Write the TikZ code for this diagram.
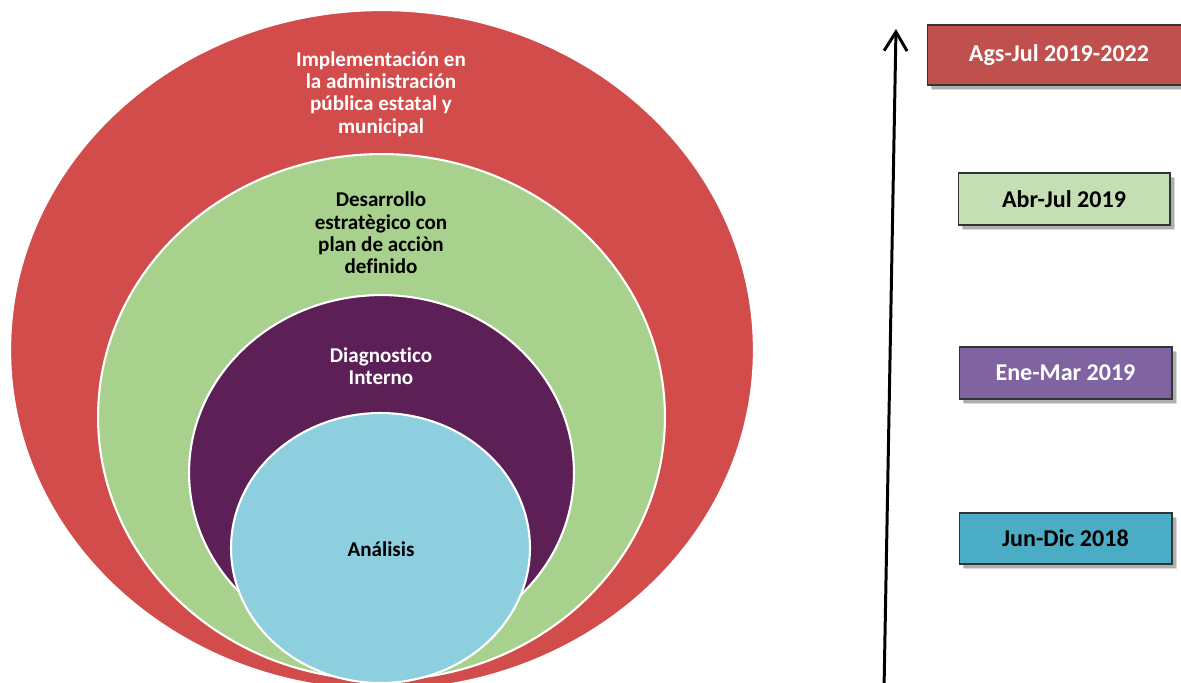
\documentclass[tikz,border=0pt]{standalone}
\usepackage{fontspec}
\setmainfont{Carlito}[Ligatures=CommonOff]
\usetikzlibrary{shapes.geometric,shadows,arrows.meta}
\definecolor{cred}{RGB}{211,76,76}
\definecolor{cgreen}{RGB}{169,209,142}
\definecolor{cpurple}{RGB}{92,32,87}
\definecolor{cblue}{RGB}{142,207,223}
\definecolor{bred}{RGB}{192,80,77}
\definecolor{bgreen}{RGB}{196,223,180}
\definecolor{bpurple}{RGB}{128,100,162}
\definecolor{bblue}{RGB}{75,172,198}
\tikzset{
  ring/.style={ellipse, draw=white, line width=1.2pt, inner sep=0pt, outer sep=0pt},
  ringtext/.style={align=center, font=\bfseries\fontsize{12}{12.7}\selectfont, inner sep=0pt},
  datebox/.style={rectangle, draw=black!80, line width=0.6pt, inner sep=0pt,
    font=\bfseries\fontsize{13.7}{15}\selectfont,
    drop shadow={shadow xshift=3pt, shadow yshift=-3pt, opacity=0.15, fill=black},
    drop shadow={shadow xshift=2pt, shadow yshift=-2pt, opacity=0.2, fill=black}},
}
\begin{document}
\begin{tikzpicture}[x=0.02cm, y=-0.02cm]
\useasboundingbox (0,0) rectangle (1181,683);
% nested ellipses
\node[ring, fill=cred, minimum width=14.88cm, minimum height=13.6cm] (red) at (382,350) {};
\node[ring, fill=cgreen, minimum width=11.34cm, minimum height=10.52cm] (green) at (381.5,417) {};
\node[ring, fill=cpurple, minimum width=7.7cm, minimum height=7.1cm] (purple) at (381.5,472.5) {};
\node[ring, fill=cblue, minimum width=5.98cm, minimum height=5.4cm] (blue) at (380.5,548) {};
% texts
\node[ringtext, text=white] (tred) at (381,94) {Implementación en\\la administración\\pública estatal y\\municipal};
\node[ringtext, text=black] (tgreen) at (381,233) {Desarrollo\\estratègico con\\plan de acciòn\\definido};
\node[ringtext, text=white] (tpurple) at (381,366) {Diagnostico\\Interno};
\node[ringtext, text=black] (tblue) at (381,549) {Análisis};
% arrow
\coordinate (abot) at (884,690);
\coordinate (atop) at (896,29);
\draw[line width=1.7pt, -{Straight Barb[length=0.38cm, width=0.46cm, line width=1.7pt]}] (abot) -- (atop);
% date boxes
\node[datebox, fill=bred, text=white, minimum width=5.28cm, minimum height=1.2cm] (b1) at (1059,55) {Ags-Jul 2019-2022};
\node[datebox, fill=bgreen, text=black, minimum width=4.24cm, minimum height=1.04cm] (b2) at (1064,199) {Abr-Jul 2019};
\node[datebox, fill=bpurple, text=white, minimum width=4.26cm, minimum height=1.04cm] (b3) at (1065.5,373) {Ene-Mar 2019};
\node[datebox, fill=bblue, text=black, minimum width=4.26cm, minimum height=1.02cm] (b4) at (1065.5,538.5) {Jun-Dic 2018};
\end{tikzpicture}
\end{document}
